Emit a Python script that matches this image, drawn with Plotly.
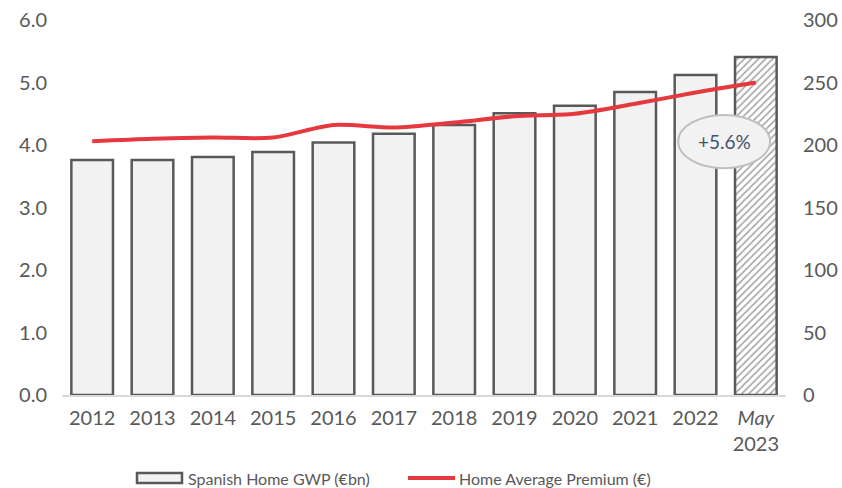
import plotly.graph_objects as go

categories = ["2012", "2013", "2014", "2015", "2016", "2017", "2018", "2019",
              "2020", "2021", "2022", "<i>May</i><br>2023"]
gwp_bn = [3.76, 3.76, 3.81, 3.89, 4.04, 4.18, 4.32, 4.51, 4.63, 4.85, 5.12, 5.41]
avg_premium = [203, 205, 206, 206, 216, 214, 218, 223, 225, 233, 242, 250]
left_ticks = [0, 1, 2, 3, 4, 5, 6]
right_ticks = [0, 50, 100, 150, 200, 250, 300]
growth_label = "+5.6%"
bar_name = "Spanish Home GWP (€bn)"
line_name = "Home Average Premium (€)"

FONT = "Lato"
GREY = "#595959"
RED = "#e5393f"

fill_colors = ["#f2f2f2"] * (len(categories) - 1) + ["#ffffff"]
patterns = [""] * (len(categories) - 1) + ["/"]

fig = go.Figure()
fig.add_trace(go.Bar(
    x=categories, y=gwp_bn, name=bar_name,
    marker=dict(color=fill_colors, line=dict(color="#595959", width=2.5),
                pattern=dict(shape=patterns, fgcolor="#666666", bgcolor="#ffffff",
                             size=5, solidity=0.3, fillmode="overlay")),
    width=0.69, yaxis="y",
))
fig.add_trace(go.Scatter(
    x=categories, y=avg_premium, name=line_name,
    mode="lines", line=dict(color=RED, width=4, shape="spline", smoothing=0.8),
    yaxis="y2",
))

# growth callout
fig.add_shape(type="circle", xref="paper", yref="paper",
              x0=0.851, x1=0.978, y0=0.605, y1=0.747,
              fillcolor="#f2f2f2", line=dict(color="#bfbfbf", width=2), layer="above")
fig.add_annotation(xref="paper", yref="paper", x=0.9145, y=0.676, text=growth_label,
                   showarrow=False, xanchor="center", yanchor="middle",
                   font=dict(family=FONT, size=19, color="#44546a"))

# custom legend (paper coords: x = (px-62)/724, y = (395-py)/375)
fig.add_shape(type="rect", xref="paper", yref="paper",
              x0=(137 - 62) / 724, x1=(182 - 62) / 724,
              y0=(395 - 483) / 375, y1=(395 - 473) / 375,
              fillcolor="#f2f2f2", line=dict(color="#595959", width=2.5))
fig.add_annotation(xref="paper", yref="paper", x=(186 - 62) / 724, y=(395 - 478) / 375,
                   text=bar_name, showarrow=False, xanchor="left", yanchor="middle",
                   font=dict(family=FONT, size=16, color=GREY))
fig.add_shape(type="line", xref="paper", yref="paper",
              x0=(408 - 62) / 724, x1=(455 - 62) / 724,
              y0=(395 - 478) / 375, y1=(395 - 478) / 375,
              line=dict(color=RED, width=4))
fig.add_annotation(xref="paper", yref="paper", x=(457 - 62) / 724, y=(395 - 478) / 375,
                   text=line_name, showarrow=False, xanchor="left", yanchor="middle",
                   font=dict(family=FONT, size=16, color=GREY))

fig.update_layout(
    width=842, height=488,
    margin=dict(l=62, r=56, t=20, b=93, autoexpand=False),
    plot_bgcolor="white", paper_bgcolor="white",
    font=dict(family=FONT, size=20, color=GREY),
    showlegend=False,
    xaxis=dict(type="category", range=[-0.5, 11.5], showline=True,
               linecolor="#d9d9d9", linewidth=2, ticks="", showgrid=False,
               automargin=False, ticklabelstandoff=4, ticklabeloverflow="allow",
               tickfont=dict(size=20, color=GREY)),
    yaxis=dict(range=[0, 6], tickvals=left_ticks, tickformat=".1f", showgrid=False,
               zeroline=False, showline=False, ticks="", automargin=False,
               ticklabelstandoff=14, ticklabeloverflow="allow",
               tickfont=dict(size=20, color=GREY)),
    yaxis2=dict(range=[0, 300], tickvals=right_ticks, overlaying="y", side="right",
                showgrid=False, zeroline=False, showline=False, ticks="",
                automargin=False, ticklabelstandoff=16, ticklabeloverflow="allow",
                tickfont=dict(size=20, color=GREY)),
)

fig.write_html(
    "out.html",
    config={"displayModeBar": False},
    post_script="document.body.style.margin='0';document.body.style.overflow='hidden';",
)
